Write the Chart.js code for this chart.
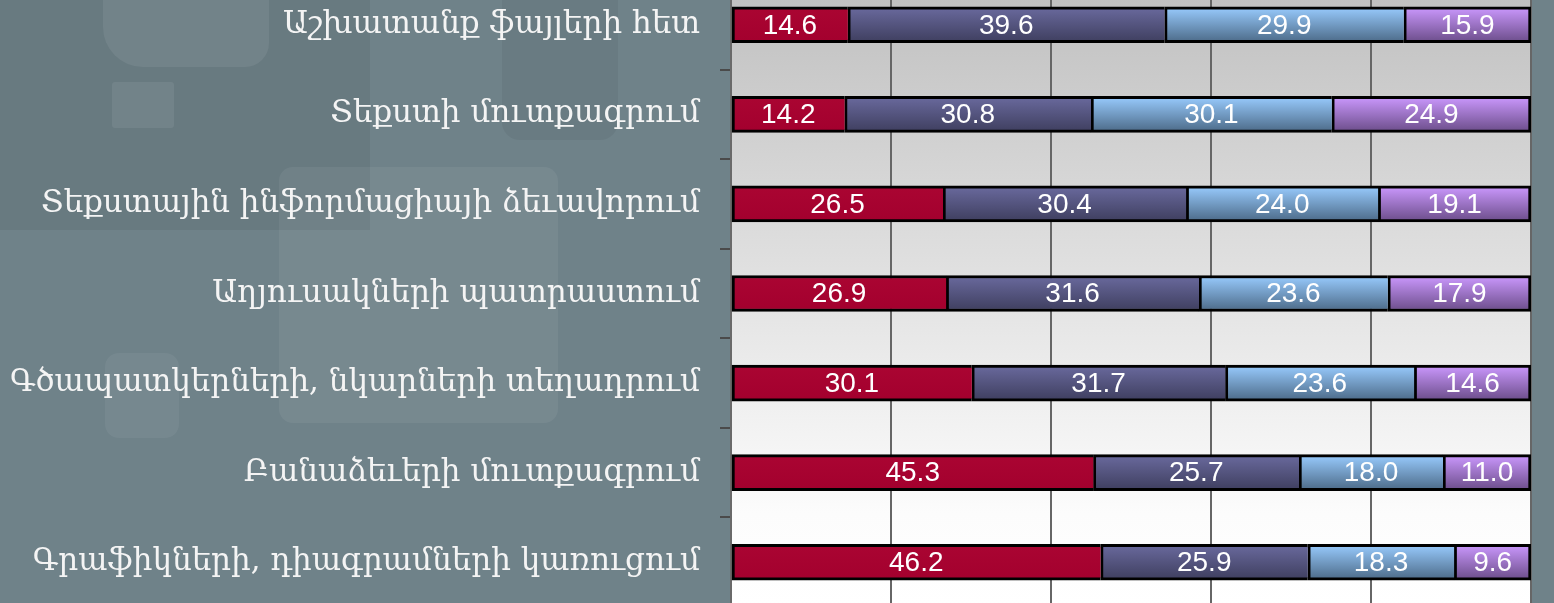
<!DOCTYPE html>
<html lang="hy">

<head>
    <meta charset="UTF-8">
    <title>Chart</title>
    <script src="https://cdn.jsdelivr.net/npm/chart.js"></script>
    <style>
        html, body {
            margin: 0;
            padding: 0;
            width: 1554px;
            height: 603px;
            overflow: hidden;
            background: #6f8289;
        }

        .bg {
            position: absolute;
            border-radius: 14px;
        }

        #wrap {
            position: absolute;
            left: 0;
            top: -20px;
            width: 1554px;
            height: 627px;
        }
    </style>
</head>

<body>
    <!-- faint background shapes -->
    <div class="bg" style="left:0;top:0;width:370px;height:230px;background:rgba(0,0,0,0.06);border-radius:0"></div>
    <div class="bg" style="left:103px;top:0;width:166px;height:67px;background:rgba(255,255,255,0.07);border-radius:0 0 24px 40px"></div>
    <div class="bg" style="left:112px;top:82px;width:62px;height:46px;background:rgba(255,255,255,0.07);border-radius:3px"></div>
    <div class="bg" style="left:502px;top:0;width:116px;height:140px;background:rgba(0,0,0,0.05);border-radius:0 0 18px 18px"></div>
    <div class="bg" style="left:279px;top:167px;width:279px;height:256px;background:rgba(255,255,255,0.06)"></div>
    <div class="bg" style="left:105px;top:353px;width:74px;height:85px;background:rgba(255,255,255,0.05)"></div>

    <div id="wrap"><canvas id="myChart"></canvas></div>

    <script>
        const categories = [
            'Աշխատանք ֆայլերի հետ',
            'Տեքստի մուտքագրում',
            'Տեքստային ինֆորմացիայի ձեւավորում',
            'Աղյուսակների պատրաստում',
            'Գծապատկերների, նկարների տեղադրում',
            'Բանաձեւերի մուտքագրում',
            'Գրաֆիկների, դիագրամների կառուցում'
        ];
        const series1 = [14.6, 14.2, 26.5, 26.9, 30.1, 45.3, 46.2];
        const series2 = [39.6, 30.8, 30.4, 31.6, 31.7, 25.7, 25.9];
        const series3 = [29.9, 30.1, 24.0, 23.6, 23.6, 18.0, 18.3];
        const series4 = [15.9, 24.9, 19.1, 17.9, 14.6, 11.0, 9.6];
        const xTicks = [0, 20, 40, 60, 80, 100];

        // gradient per bar (top colour, bottom colour)
        function barGradient(top, bottom, fallback) {
            return function (context) {
                const chart = context.chart;
                if (!chart.chartArea || !chart.scales.y) return fallback;
                const y = chart.scales.y.getPixelForValue(context.dataIndex);
                const g = chart.ctx.createLinearGradient(0, y - 18, 0, y + 18);
                g.addColorStop(0, top);
                g.addColorStop(1, bottom);
                return g;
            };
        }

        const plotBackground = {
            id: 'plotBackground',
            beforeDraw(chart) {
                const { ctx, chartArea } = chart;
                const g = ctx.createLinearGradient(0, chartArea.top, 0, chartArea.bottom);
                g.addColorStop(0, '#bfbfbf');
                g.addColorStop(0.85, '#fcfcfc');
                g.addColorStop(1, '#ffffff');
                ctx.save();
                ctx.fillStyle = g;
                ctx.fillRect(chartArea.left, chartArea.top, chartArea.right - chartArea.left, chartArea.bottom - chartArea.top);
                ctx.restore();
            }
        };

        const valueLabels = {
            id: 'valueLabels',
            afterDatasetsDraw(chart) {
                const ctx = chart.ctx;
                ctx.save();
                ctx.font = '28px "Liberation Sans", Arial, sans-serif';
                ctx.fillStyle = '#ffffff';
                ctx.textAlign = 'center';
                ctx.textBaseline = 'middle';
                chart.data.datasets.forEach((ds, i) => {
                    chart.getDatasetMeta(i).data.forEach((bar, j) => {
                        const p = bar.getCenterPoint();
                        ctx.fillText(ds.data[j].toFixed(1), p.x, p.y + 1);
                    });
                });
                ctx.restore();
            }
        };

        const inner = { top: 3, bottom: 3, left: 3, right: 0 };
        const last = { top: 3, bottom: 3, left: 3, right: 3 };

        new Chart(document.getElementById('myChart'), {
            type: 'bar',
            data: {
                labels: categories,
                datasets: [
                    {
                        data: series1,
                        backgroundColor: barGradient('#aa0532', '#a3002e', '#a6002f'),
                        borderColor: '#000', borderWidth: inner, borderSkipped: false
                    },
                    {
                        data: series2,
                        backgroundColor: barGradient('#6a6a9e', '#3e3e5e', '#55557f'),
                        borderColor: '#000', borderWidth: inner, borderSkipped: false
                    },
                    {
                        data: series3,
                        backgroundColor: barGradient('#99ccff', '#4b6986', '#7aa6d0'),
                        borderColor: '#000', borderWidth: inner, borderSkipped: false
                    },
                    {
                        data: series4,
                        backgroundColor: barGradient('#cc99ff', '#6a4c88', '#a87bd6'),
                        borderColor: '#000', borderWidth: last, borderSkipped: false
                    }
                ]
            },
            options: {
                indexAxis: 'y',
                responsive: true,
                maintainAspectRatio: false,
                animation: false,
                barThickness: 36,
                layout: { padding: { left: 0, right: 23, top: 0, bottom: 0 } },
                plugins: {
                    legend: { display: false },
                    tooltip: { enabled: false }
                },
                scales: {
                    x: {
                        stacked: true,
                        min: xTicks[0],
                        max: xTicks[xTicks.length - 1],
                        afterBuildTicks: s => { s.ticks = xTicks.map(v => ({ value: v })); },
                        afterFit: s => { s.height = 0; s.paddingLeft = 0; s.paddingRight = 0; },
                        ticks: { display: false },
                        grid: { color: '#666666', lineWidth: 2, drawTicks: false },
                        border: { display: false }
                    },
                    y: {
                        stacked: true,
                        afterFit: s => { s.width = 731; s.paddingTop = 0; s.paddingBottom = 0; },
                        ticks: {
                            color: '#f4f4f4',
                            padding: 20,
                            font: { family: '"DejaVu Serif", serif', size: 31 }
                        },
                        grid: { drawOnChartArea: false, tickLength: 11, color: '#4a4a4a', lineWidth: 2 },
                        border: { display: true, color: '#6a6a6a', width: 2 }
                    }
                }
            },
            plugins: [plotBackground, valueLabels]
        });
    </script>

</body>

</html>
